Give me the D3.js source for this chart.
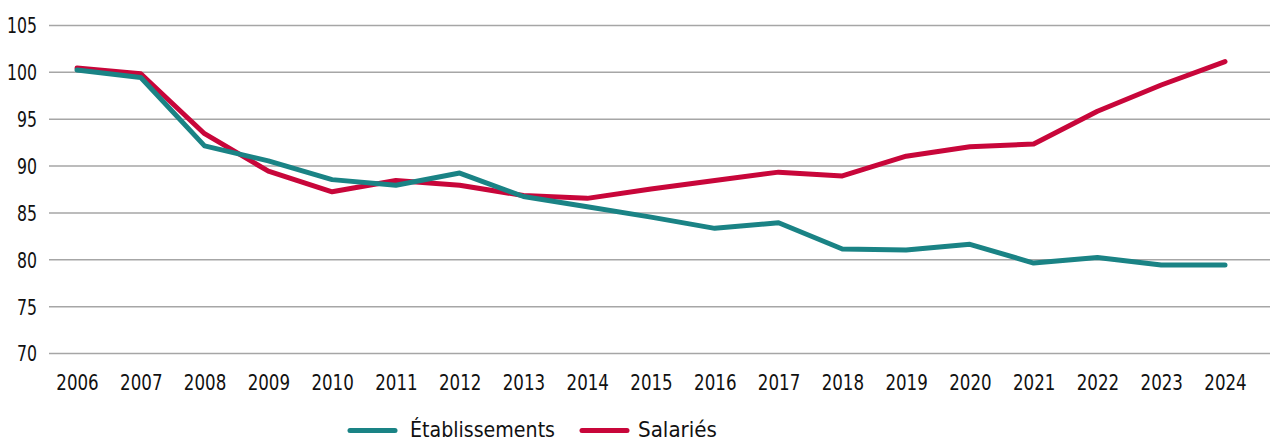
<!DOCTYPE html>
<html>
<head>
<meta charset="utf-8">
<script src="https://cdn.jsdelivr.net/npm/d3@7"></script>
<style>
  html, body { margin: 0; padding: 0; background: #fff; }
  svg { display: block; }
  text { font-family: "DejaVu Sans Condensed", "Liberation Sans Narrow", sans-serif; fill: #111; }
</style>
</head>
<body>
<svg id="chart" width="1270" height="443"></svg>
<script>
const years = ["2006","2007","2008","2009","2010","2011","2012","2013","2014","2015","2016","2017","2018","2019","2020","2021","2022","2023","2024"];
const etablissements = [100.2, 99.4, 92.1, 90.5, 88.5, 87.9, 89.2, 86.7, 85.6, 84.5, 83.3, 83.9, 81.1, 81.0, 81.6, 79.6, 80.2, 79.4, 79.4];
const salaries = [100.4, 99.8, 93.4, 89.4, 87.2, 88.4, 87.9, 86.8, 86.5, 87.5, 88.4, 89.3, 88.9, 91.0, 92.0, 92.3, 95.8, 98.6, 101.1];
const yTicks = [70, 75, 80, 85, 90, 95, 100, 105];
const seriesNames = ["Établissements", "Salariés"];
const seriesColors = ["#1a8385", "#c8063a"];

const svg = d3.select("#chart");
const W = 1270;
const gridLeft = 49;
const FONT = '"DejaVu Sans Condensed", "Liberation Sans Narrow", sans-serif';

const x = d3.scalePoint().domain(years).range([77, 1225]);
const y = d3.scaleLinear().domain([70, 105]).range([353, 25]);

function condense(sel, perChar) {
  sel.each(function() {
    const t = d3.select(this);
    const n = (t.text() || "").length;
    t.attr("textLength", n * perChar).attr("lengthAdjust", "spacingAndGlyphs");
  });
}

// Y axis with gridlines
const yAxis = svg.append("g")
  .attr("transform", `translate(${gridLeft},0)`)
  .call(d3.axisLeft(y).tickValues(yTicks).tickSize(-(W - gridLeft)).tickPadding(12).tickFormat(d3.format("d")));
yAxis.select(".domain").remove();
yAxis.selectAll(".tick line").attr("stroke", "#a6a6a6").attr("stroke-width", 1.5);
yAxis.selectAll(".tick text").attr("font-size", 22).attr("fill", "#111")
  .attr("dy", "0.36em")
  .style("font-family", FONT)
  .call(condense, 10);

// X axis
const xAxis = svg.append("g")
  .attr("transform", "translate(0,353)")
  .call(d3.axisBottom(x).tickSize(0).tickPadding(21));
xAxis.select(".domain").remove();
xAxis.selectAll(".tick text").attr("font-size", 22).attr("fill", "#111")
  .style("font-family", FONT)
  .call(condense, 10.6);

// Lines
const line = d3.line().x((d, i) => x(years[i])).y(d => y(d));
const data = [etablissements, salaries];
[1, 0].forEach(k => {
  svg.append("path")
    .datum(data[k])
    .attr("fill", "none")
    .attr("stroke", seriesColors[k])
    .attr("stroke-width", 5)
    .attr("stroke-linejoin", "round")
    .attr("stroke-linecap", "round")
    .attr("d", line);
});

// Legend
const legendItems = [
  { name: seriesNames[0], color: seriesColors[0], x0: 350, tx: 410, tw: 145 },
  { name: seriesNames[1], color: seriesColors[1], x0: 582, tx: 638, tw: 79 }
];
const lg = svg.append("g");
legendItems.forEach(it => {
  lg.append("line")
    .attr("x1", it.x0).attr("x2", it.x0 + 45)
    .attr("y1", 430.5).attr("y2", 430.5)
    .attr("stroke", it.color).attr("stroke-width", 5).attr("stroke-linecap", "round");
  lg.append("text")
    .attr("x", it.tx).attr("y", 437)
    .attr("font-size", 22)
    .attr("textLength", it.tw)
    .attr("lengthAdjust", "spacingAndGlyphs")
    .text(it.name);
});
</script>
</body>
</html>
